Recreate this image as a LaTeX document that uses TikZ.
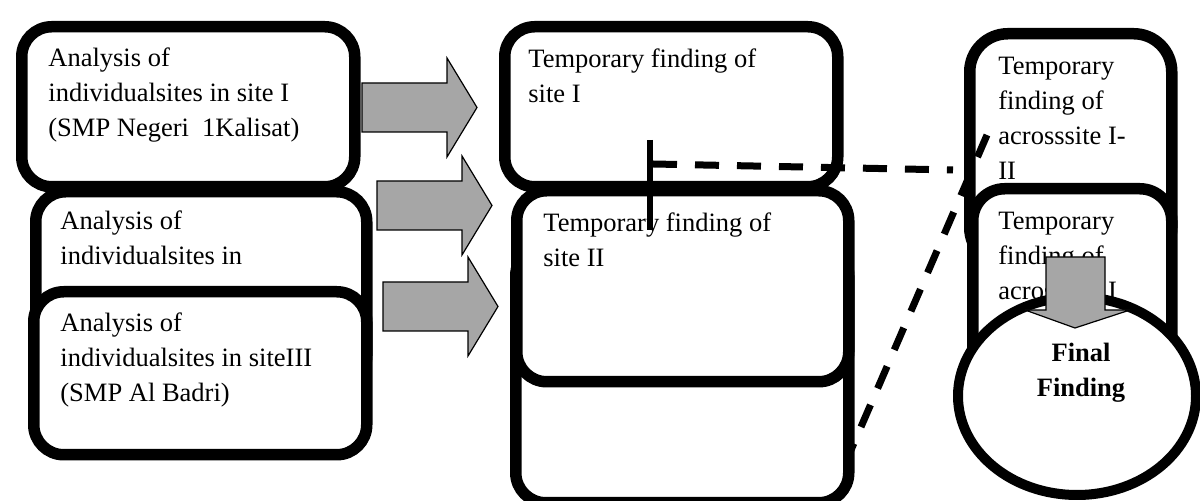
\documentclass[tikz,border=0pt]{standalone}
\usepackage{fontspec}
\setmainfont{Liberation Serif}
\usetikzlibrary{shapes.geometric}
\definecolor{arrowgray}{HTML}{A6A6A6}
\begin{document}
\begin{tikzpicture}[x=0.5pt, y=-0.5pt,
  box/.style={draw, line width=5.75pt, fill=white, rounded corners=15pt,
    inner sep=0pt, anchor=north west},
  lbl/.style={anchor=base west, inner sep=0pt, align=left,
    font=\fontsize{13.25}{17.5}\selectfont},
  boldlbl/.style={anchor=base, inner sep=0pt, align=center,
    font=\fontsize{13.25}{17.5}\selectfont\bfseries},
  garrow/.style={draw, line width=0.6pt, fill=arrowgray, line join=miter},
  link/.style={line width=3.5pt, dash pattern=on 12pt off 9pt},
  rarrow/.pic={\draw[garrow] (0,0) -- (85,0) -- (85,-25) -- (115,24.5)
    -- (85,74) -- (85,49) -- (0,49) -- cycle;}]
\useasboundingbox (0,0) rectangle (1200,501);

% left column: analysis of the individual sites
% (labels are anchored on the baseline of their last line)
\node[box, minimum width=166.5pt, minimum height=80pt] (siteA) at (16,21) {};
\node[box, minimum width=165.5pt, minimum height=97pt] (siteB) at (30,186) {};
\node[box, minimum width=166.5pt, minimum height=81.5pt] (siteC) at (28,286) {};
\node[lbl] (siteAtxt) at (48,137) {Analysis of\\individualsites in site I\\(SMP Negeri\ \ 1Kalisat)};
\node[lbl] (siteBtxt) at (60,265) {Analysis of\\individualsites in};
\node[lbl] (siteCtxt) at (60,402) {Analysis of\\individualsites in siteIII\\(SMP Al Badri)};

% block arrows towards the temporary findings
\pic (arrA) at (362,83) {rarrow};
\pic (arrB) at (377,181) {rarrow};
\pic (arrC) at (383,282) {rarrow};

% middle column: temporary findings per site
\node[box, minimum width=166.5pt, minimum height=128.5pt] (tmpC) at (510,240) {};
\node[box, minimum width=166.5pt, minimum height=80pt] (tmpA) at (499,21) {};
\node[box, minimum width=166pt, minimum height=95.5pt] (tmpB) at (511,185) {};
\node[lbl] (tmpAtxt) at (528,103) {Temporary finding of\\site I};
\node[lbl] (tmpBtxt) at (543,267) {Temporary finding of\\site II};

% right column: cross-site findings and the final finding
\node[box, rounded corners=19pt, minimum width=101pt, minimum height=116pt] (crossA) at (964,28) {};
\node[lbl] (crossAtxt) at (998,180) {Temporary\\finding of\\acrosssite I-\\II};
\node[box, rounded corners=16pt, minimum width=99.5pt, minimum height=108.5pt] (crossB) at (967,183) {};
\node[lbl] (crossBtxt) at (998,300) {Temporary\\finding of\\acrosssite I};
\node[draw, ellipse, line width=5pt, fill=white, inner sep=0pt,
  minimum width=119pt, minimum height=99pt] (final) at (1077,396) {};
\node[boldlbl] (finaltxt) at (1081,397) {Final\\Finding};
\draw[garrow] (1046,257) -- (1105,257) -- (1105,310) -- (1130,310)
  -- (1075,328) -- (1025,310) -- (1046,310) -- cycle;

% bracket linking the findings
\coordinate (barTop) at (650,140);
\coordinate (barBot) at (650,230);
\coordinate (barJoin) at (653,164);
\coordinate (crossJoin) at (953,170);
\coordinate (slantTop) at (987,135);
\coordinate (slantBot) at (848,457);
\draw[line width=3pt] (barTop) -- (barBot);
\draw[link] (barJoin) -- (crossJoin);
\draw[link] (slantTop) -- (slantBot);
\end{tikzpicture}
\end{document}
